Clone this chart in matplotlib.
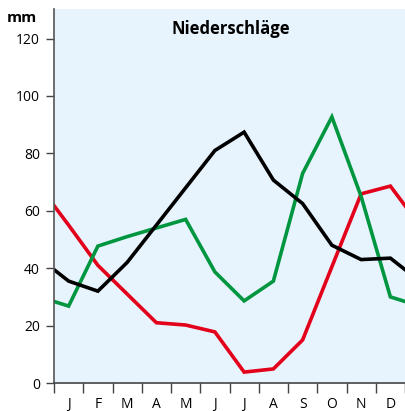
import matplotlib
matplotlib.use("Agg")
import matplotlib.pyplot as plt
import numpy as np

months = ["J", "F", "M", "A", "M", "J", "J", "A", "S", "O", "N", "D"]
black_vals = [35.5, 32, 42, 55, 68, 81, 87.4, 70.7, 62.5, 48, 43, 43.5]
red_vals = [55, 41, 31, 21, 20.2, 17.8, 3.8, 4.9, 15, 40.5, 65.9, 68.6]
green_vals = [26.8, 47.7, 51, 54, 57, 38.7, 28.6, 35.5, 73, 92.7, 65, 30]
yticks = [0, 20, 40, 60, 80, 100, 120]

plt.rcParams['font.family'] = ['Open Sans', 'DejaVu Sans']

fig = plt.figure(figsize=(4.05, 4.11), dpi=100)
ax = fig.add_axes([54/405, 1 - 383/411, 1 - 54/405, (383 - 9)/411])
ax.set_facecolor('#E8F4FD')

x = np.arange(1, 13)
# wrap around so lines continue beyond plot edges (periodic year)
xw = np.concatenate([[0], x, [13]])
for vals, col in [(red_vals, '#E2001A'), (green_vals, '#009640'), (black_vals, '#000000')]:
    vw = np.concatenate([[vals[-1]], vals, [vals[0]]])
    ax.plot(xw, vw, color=col, lw=2.6, solid_joinstyle='miter', clip_on=True)

ax.set_xlim(0.5, 12.44)
ax.set_ylim(0, 130.3)

ax.set_yticks(yticks)
ax.set_yticklabels([str(v) for v in yticks], fontsize=10)
ax.set_xticks(np.arange(0.5, 12.6, 1))
ax.set_xticklabels([])
ax.set_xticks(x, minor=True)
ax.set_xticklabels(months, minor=True, fontsize=10)
ax.tick_params(axis='x', which='minor', length=0, pad=10)
ax.tick_params(axis='x', which='major', length=7, width=1, color='#444444', direction='out')
ax.tick_params(axis='y', length=6, width=1, color='#444444', direction='out', pad=4)

for s in ['top', 'right']:
    ax.spines[s].set_visible(False)
ax.spines['left'].set_color('#555555')
ax.spines['bottom'].set_color('#444444')
ax.spines['left'].set_linewidth(1.2)
ax.spines['bottom'].set_linewidth(1.2)

ax.text(0.504, 0.947, 'Niederschläge', transform=ax.transAxes, ha='center', va='center',
        fontsize=12, fontweight='bold')
fig.text(22/405, 1 - 18/411, 'mm', ha='center', va='center', fontsize=11, fontweight='bold')

fig.savefig('out.png', dpi=100)
